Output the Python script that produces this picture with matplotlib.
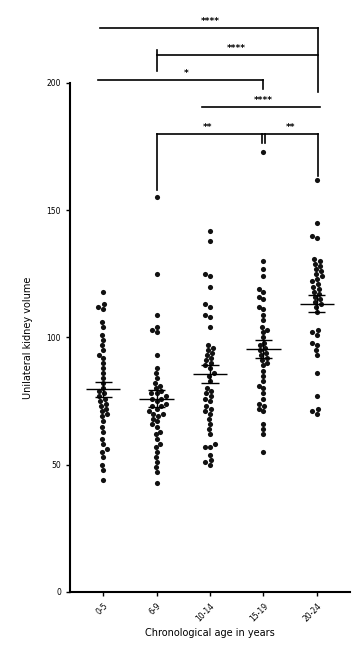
import numpy as np
import pandas as pd
import matplotlib
matplotlib.use("Agg")
import matplotlib.pyplot as plt
import seaborn as sns

# values, one list per age group
groups = ["0-5", "6-9", "10-14", "15-19", "20-24"]

g1 = [118, 113, 112, 111, 106, 104, 101, 99, 97, 95, 93, 92, 90, 88, 86, 84, 82, 80,
      79, 78, 77, 76, 75, 74, 73, 72, 71, 70, 69, 67, 65, 63, 60, 58, 56, 55, 53, 50, 48, 44]
g2 = [155, 125, 109, 104, 103, 102, 93, 88, 86, 84, 82, 81, 80, 79, 78, 78, 77, 76, 76,
      75, 74, 73, 73, 72, 71, 70, 70, 69, 68, 67, 66, 65, 63, 62, 60, 58, 57, 55, 53, 51,
      49, 47, 43]
g3 = [142, 138, 125, 124, 120, 113, 112, 109, 108, 104, 97, 96, 95, 94, 93, 92, 91, 90,
      89, 88, 86, 85, 83, 80, 79, 78, 77, 76, 75, 73, 72, 71, 70, 68, 66, 64, 62, 58, 57,
      57, 54, 52, 51, 50]
g4 = [173, 130, 127, 124, 119, 118, 116, 115, 112, 111, 109, 107, 104, 103, 102, 100, 98,
      97, 96, 95, 94, 93, 92, 91, 90, 89, 87, 85, 83, 81, 80, 78, 76, 74, 73, 72, 71, 66,
      64, 62, 55]
g5 = [162, 145, 140, 139, 131, 130, 129, 128, 127, 126, 125, 124, 123, 122, 121, 120, 119,
      118, 117, 116, 115, 114, 113, 112, 110, 103, 102, 101, 98, 97, 95, 93, 86, 77, 72,
      71, 70]

all_groups = [g1, g2, g3, g4, g5]

# significance comparisons: (group a, group b, bracket level, stars)
comparisons = [
    (0, 4, 221.6, "****"),
    (1, 4, 211.0, "****"),
    (0, 3, 201.0, "*"),
    (2, 4, 190.6, "****"),
    (1, 3, 180.0, "**"),
    (3, 4, 180.0, "**"),
]

df = pd.DataFrame({
    "age": np.repeat(groups, [len(g) for g in all_groups]),
    "vol": np.concatenate(all_groups),
})

fig = plt.figure(figsize=(3.55, 6.46), dpi=100)
ax = fig.add_axes([0.197, 0.0836, 0.789, 0.788])

sns.swarmplot(data=df, x="age", y="vol", order=groups, color="#111111", size=3.7, ax=ax)

# mean and SEM
for i, g in enumerate(all_groups):
    g = np.array(g, dtype=float)
    m = g.mean()
    sem = g.std(ddof=1) / np.sqrt(len(g))
    ax.hlines(m, i - 0.32, i + 0.32, color="black", lw=1.0, zorder=5)
    ax.hlines([m - sem, m + sem], i - 0.16, i + 0.16, color="black", lw=1.0, zorder=5)
    ax.vlines(i, m - sem, m + sem, color="black", lw=1.0, zorder=5)

ax.set_xlim(-0.62, 4.62)
ax.set_ylim(0, 200)
ax.set_yticks([0, 50, 100, 150, 200])
ax.tick_params(axis="y", labelsize=5.5, length=3, width=1)
ax.tick_params(axis="x", labelsize=5.5, length=3, width=1)
plt.setp(ax.get_xticklabels(), rotation=45, ha="right", rotation_mode="anchor")
ax.set_xlabel("Chronological age in years", fontsize=7)
ax.set_ylabel("Unilateral kidney volume", fontsize=7, labelpad=10)
for s in ["top", "right"]:
    ax.spines[s].set_visible(False)
for s in ["left", "bottom"]:
    ax.spines[s].set_linewidth(1.5)

# brackets
kw = dict(color="black", lw=1.2, clip_on=False)
ax.plot([-0.05, 4.02], [221.6, 221.6], **kw)
ax.plot([4.02, 4.02], [221.6, 196.5], **kw)
ax.plot([1.0, 4.02], [211.0, 211.0], **kw)
ax.plot([1.0, 1.0], [213.0, 204.5], **kw)
ax.plot([-0.1, 3.0], [201.0, 201.0], **kw)
ax.plot([3.0, 3.0], [201.0, 197.5], **kw)
ax.plot([1.85, 4.05], [190.6, 190.6], **kw)
ax.plot([1.0, 4.02], [180.0, 180.0], **kw)
ax.plot([1.0, 1.0], [180.0, 158.0], **kw)
ax.plot([2.97, 2.97], [180.0, 176.5], **kw)
ax.plot([3.03, 3.03], [180.0, 176.5], **kw)
ax.plot([4.02, 4.02], [180.0, 163.5], **kw)

star_x = [2.0, 2.5, 1.55, 3.0, 1.95, 3.5]
for (a, b, lvl, st), sx in zip(comparisons, star_x):
    ax.text(sx, lvl + 0.8, st, ha="center", va="bottom", fontsize=6.5,
            fontweight="bold", clip_on=False)

plt.savefig("out.png", dpi=100)
